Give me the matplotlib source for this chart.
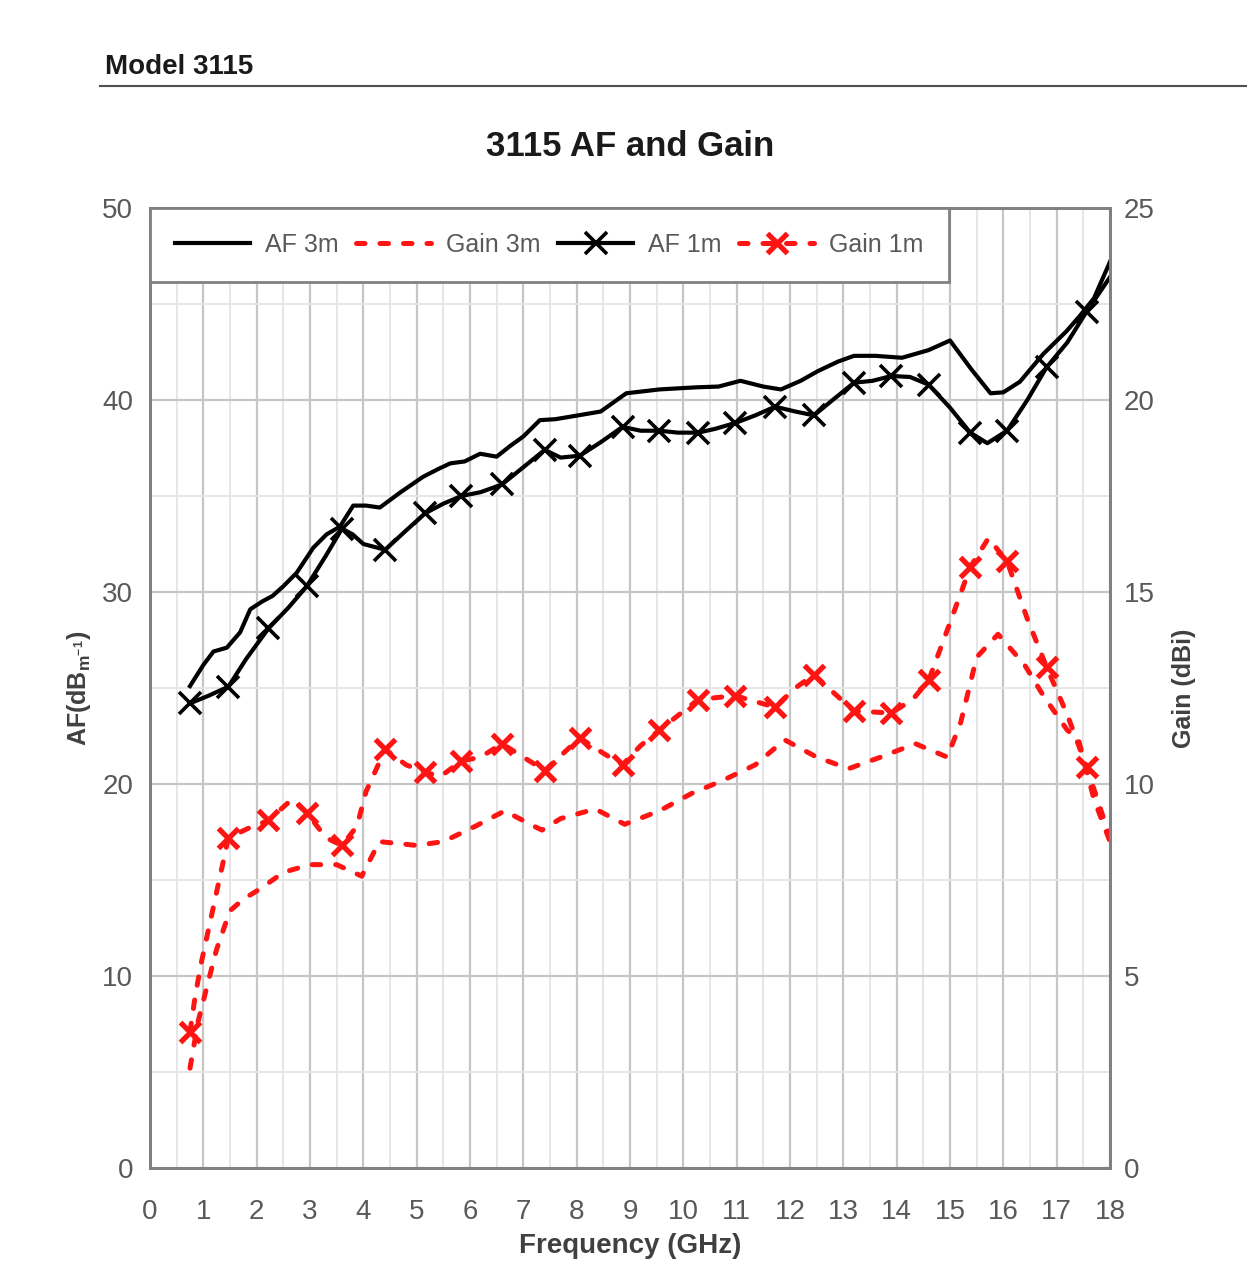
import numpy as np
import matplotlib
matplotlib.use('Agg')
import matplotlib.pyplot as plt
from matplotlib.lines import Line2D
from matplotlib.ticker import MultipleLocator

plt.rcParams['font.family'] = ['Liberation Sans', 'DejaVu Sans']
plt.rcParams['mathtext.fontset'] = 'custom'
plt.rcParams['mathtext.rm'] = 'Liberation Sans'
plt.rcParams['mathtext.bf'] = 'Liberation Sans:bold'

# AF 3m (dB/m) - linia ciagla
af3_freq = [0.75, 1.0, 1.19, 1.44, 1.69, 1.88, 2.1, 2.3, 2.5, 2.75, 3.06, 3.31, 3.56, 3.81,
            4.05, 4.31, 4.7, 5.12, 5.4, 5.63, 5.9, 6.19, 6.5, 6.75, 7.0, 7.31, 7.6, 8.03,
            8.45, 8.93, 9.55, 10.24, 10.66, 11.07, 11.5, 11.83, 12.2, 12.52, 12.9, 13.2,
            13.6, 14.1, 14.6, 15.0, 15.4, 15.76, 16.0, 16.31, 16.75, 17.19, 17.44, 17.7, 18.0]
af3_val = [25.1, 26.2, 26.9, 27.1, 27.9, 29.1, 29.5, 29.8, 30.3, 31.0, 32.3, 33.0, 33.4, 34.5,
           34.5, 34.4, 35.2, 36.0, 36.4, 36.7, 36.8, 37.2, 37.05, 37.6, 38.1, 38.95, 39.0, 39.2,
           39.4, 40.35, 40.55, 40.66, 40.7, 41.0, 40.7, 40.55, 41.0, 41.5, 42.0, 42.3,
           42.3, 42.2, 42.6, 43.1, 41.6, 40.35, 40.4, 40.95, 42.4, 43.6, 44.4, 45.3, 47.2]

# AF 1m (dB/m) - linia z markerami
af1_freq = [0.75, 1.1, 1.47, 1.8, 2.22, 2.6, 2.94, 3.3, 3.6, 3.8, 4.0, 4.41, 4.8, 5.16, 5.5,
            5.84, 6.2, 6.6, 7.0, 7.4, 7.7, 8.06, 8.45, 8.86, 9.2, 9.55, 9.9, 10.28, 10.6,
            10.97, 11.35, 11.72, 12.1, 12.45, 12.8, 13.2, 13.55, 13.9, 14.25, 14.6, 15.0,
            15.38, 15.7, 16.07, 16.45, 16.81, 17.2, 17.56, 18.0]
af1_val = [24.2, 24.6, 25.07, 26.5, 28.1, 29.2, 30.3, 31.9, 33.3, 33.0, 32.5, 32.2, 33.2, 34.1, 34.6,
           35.0, 35.2, 35.6, 36.5, 37.4, 37.0, 37.1, 37.8, 38.6, 38.4, 38.4, 38.3, 38.3, 38.5,
           38.8, 39.2, 39.65, 39.4, 39.2, 40.0, 40.9, 41.0, 41.25, 41.2, 40.8, 39.6,
           38.3, 37.75, 38.4, 40.0, 41.7, 43.0, 44.6, 46.4]

# Gain 3m (dBi) - linia przerywana
g3_freq = [0.75, 0.9, 1.1, 1.25, 1.5, 1.75, 2.1, 2.5, 3.0, 3.5, 3.97, 4.3, 5.0, 5.5, 6.1, 6.65,
           7.2, 7.35, 7.7, 8.35, 8.9, 9.55, 10.15, 10.75, 11.35, 11.9, 12.5, 13.1, 13.7,
           14.35, 14.95, 15.2, 15.5, 15.9, 16.4, 16.75, 17.2, 17.4, 17.7, 18.0]
g3_val = [2.6, 3.8, 4.9, 5.7, 6.7, 7.0, 7.3, 7.7, 7.9, 7.9, 7.6, 8.5, 8.4, 8.5, 8.9, 9.3,
          8.9, 8.8, 9.1, 9.35, 8.95, 9.3, 9.75, 10.1, 10.5, 11.15, 10.7, 10.4, 10.7,
          11.05, 10.7, 11.6, 13.3, 13.9, 13.1, 12.3, 11.4, 11.2, 9.6, 8.5]

# Gain 1m (dBi) - linia przerywana z markerami
g1_freq = [0.75, 0.85, 0.97, 1.47, 1.85, 2.22, 2.66, 2.94, 3.3, 3.6, 3.88, 4.05, 4.41, 4.8,
           5.16, 5.45, 5.84, 6.2, 6.6, 7.0, 7.4, 7.75, 8.06, 8.5, 8.86, 9.2, 9.55, 10.28,
           10.97, 11.72, 12.1, 12.45, 12.8, 13.2, 13.9, 14.3, 14.6, 15.0, 15.38, 15.72,
           16.07, 16.45, 16.81, 17.2, 17.56, 18.0]
g1_val = [3.55, 4.5, 5.4, 8.6, 8.85, 9.05, 9.6, 9.25, 8.6, 8.4, 8.9, 9.8, 10.9, 10.5,
          10.3, 10.2, 10.6, 10.7, 11.05, 10.7, 10.35, 10.8, 11.2, 10.8, 10.5, 11.0, 11.4, 12.2,
          12.3, 12.0, 12.5, 12.85, 12.4, 11.9, 11.85, 12.2, 12.7, 14.2, 15.65, 16.4,
          15.8, 14.3, 13.05, 11.8, 10.45, 8.6]

# czestotliwosci, w ktorych sa markery "x" (pomiary 1m)
marker_freq = [0.75, 1.47, 2.22, 2.94, 3.6, 4.41, 5.16, 5.84, 6.6, 7.4, 8.06, 8.86, 9.55,
               10.28, 10.97, 11.72, 12.45, 13.2, 13.9, 14.6, 15.38, 16.07, 16.81, 17.56]

RED = '#ff1414'
DASH = (1.7, 3.0)

fig = plt.figure(figsize=(12.47, 12.8), dpi=100)
ax = fig.add_axes([150/1247, 1 - 1168/1280, 960/1247, 960/1280])
ax2 = ax.twinx()

# siatka
ax.set_xlim(0, 18)
ax.set_ylim(0, 50)
ax2.set_ylim(0, 25)
ax.xaxis.set_major_locator(MultipleLocator(1))
ax.xaxis.set_minor_locator(MultipleLocator(0.5))
ax.yaxis.set_major_locator(MultipleLocator(10))
ax.yaxis.set_minor_locator(MultipleLocator(5))
ax2.yaxis.set_major_locator(MultipleLocator(5))
ax.grid(which='major', color='#c6c6c6', lw=1.6)
ax.grid(which='minor', color='#e6e6e6', lw=1.4)
ax.set_axisbelow(True)

for a in (ax, ax2):
    for s in a.spines.values():
        s.set_color('#808080')
        s.set_linewidth(2)
    a.tick_params(which='both', length=0, labelsize=20, labelcolor='#595959')
ax.tick_params(axis='y', pad=12)
ax.tick_params(axis='x', pad=22)
ax2.tick_params(axis='y', pad=10)

# linie AF
ax.plot(af3_freq, af3_val, color='black', lw=3, label='AF 3m')
ax.plot(af1_freq, af1_val, color='black', lw=3, marker='x', ms=16, mew=2.6,
        markevery=list(np.isin(af1_freq, marker_freq)), label='AF 1m')

# linie Gain
ax2.plot(g3_freq, g3_val, color=RED, lw=3.6, dashes=DASH,
         dash_capstyle='round', label='Gain 3m')
ax2.plot(g1_freq, g1_val, color=RED, lw=3.6, dashes=DASH,
         dash_capstyle='round', marker='x', ms=15, mew=3.8,
         markevery=list(np.isin(g1_freq, marker_freq)), label='Gain 1m')

# legenda
h = [Line2D([], [], color='black', lw=3),
     Line2D([], [], color=RED, lw=3.6, dashes=DASH, dash_capstyle='round'),
     Line2D([], [], color='black', lw=3, marker='x', ms=16, mew=2.6),
     Line2D([], [], color=RED, lw=3.6, dashes=DASH, dash_capstyle='round',
            marker='x', ms=15, mew=3.8)]
leg = ax2.legend(h, ['AF 3m', 'Gain 3m', 'AF 1m', 'Gain 1m'], ncol=4, loc='upper left',
                 bbox_to_anchor=(0.0, 1.0), borderaxespad=0.0, fontsize=18,
                 frameon=True, fancybox=False, framealpha=1, edgecolor='#808080',
                 handlelength=3.0, handletextpad=0.6, columnspacing=0.7,
                 borderpad=1.0, labelcolor='#595959')
leg.get_frame().set_linewidth(2)

# opisy
ax.set_xlabel('Frequency (GHz)', fontsize=20, fontweight='bold', color='#404040', labelpad=6)
ax.set_ylabel(r'AF(dB$_{\mathbf{m^{-1}}}$)', fontsize=18, fontweight='bold', color='#404040', labelpad=7)
ax2.set_ylabel('Gain (dBi)', fontsize=18, fontweight='bold', color='#404040', labelpad=12)
fig.text(630/1247, 1 - 146/1280, '3115 AF and Gain', fontsize=25, fontweight='bold',
         ha='center', va='center', color='#1a1a1a')

# naglowek strony
fig.text(105/1247, 1 - 67/1280, 'Model 3115', fontsize=20, fontweight='bold',
         ha='left', va='center', color='#1a1a1a')
fig.add_artist(Line2D([100/1247, 1.0], [1 - 86/1280, 1 - 86/1280], color='#505050', lw=1.5))

plt.savefig('out.png', dpi=100)
